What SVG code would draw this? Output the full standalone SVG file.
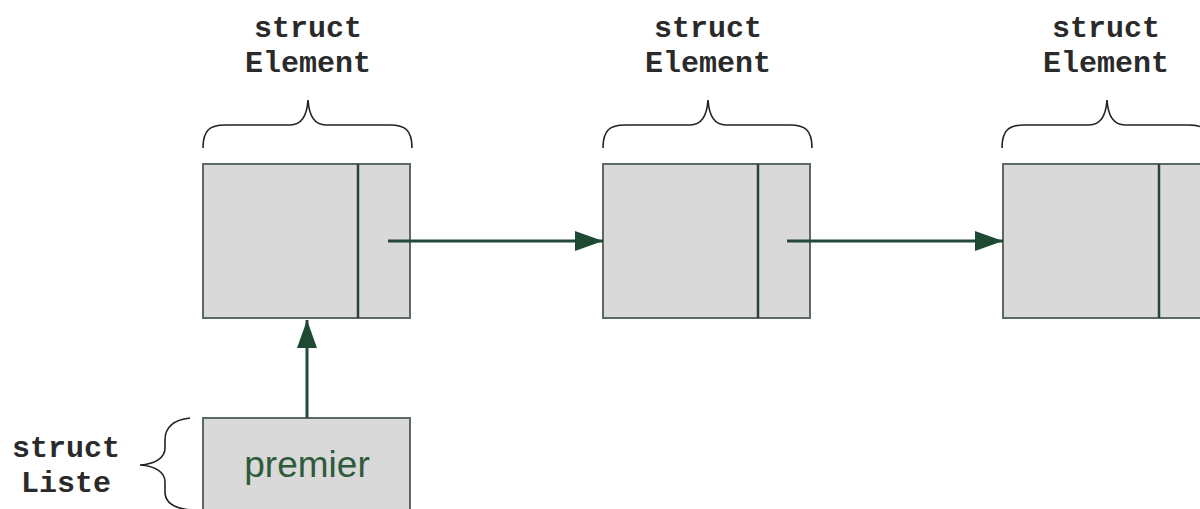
<svg xmlns="http://www.w3.org/2000/svg" width="1200" height="509" viewBox="0 0 1200 509">
<style>
.box{fill:#d9d9d9;stroke:#5b6b61;stroke-width:2}
.div{stroke:#2c4436;stroke-width:2.5}
.brace{fill:none;stroke:#222;stroke-width:1.6}
.code{font-family:"Liberation Mono","Courier New",monospace;font-weight:bold;font-size:30px;fill:#2a2a2a;text-anchor:middle}
.lbl{font-family:"Liberation Sans",Arial,sans-serif;font-size:37px;fill:#2f5a3c;text-anchor:middle}
.conn{stroke:#24483a;stroke-width:3;fill:none}
</style>
<defs>
<marker id="ah" markerWidth="28" markerHeight="20" refX="28" refY="10" orient="auto" markerUnits="userSpaceOnUse">
<path d="M0,0 L28,10 L0,20 Z" fill="#1e4a34"/>
</marker>
</defs>
<g id="element1">
<text class="code" x="308" y="37">struct</text>
<text class="code" x="308" y="72">Element</text>
<path class="brace" d="M203,148 C203,130 210,125 225,125 L290,125 C302,125 307,115 308,100 C309,115 314,125 326,125 L390,125 C405,125 412,130 412,148"/>
<rect class="box" x="203" y="164" width="207" height="154"/>
<line class="div" x1="358" y1="164" x2="358" y2="318"/>
</g>
<g id="element2">
<text class="code" x="708" y="37">struct</text>
<text class="code" x="708" y="72">Element</text>
<path class="brace" d="M603,148 C603,130 610,125 625,125 L690,125 C702,125 707,115 708,100 C709,115 714,125 726,125 L790,125 C805,125 812,130 812,148"/>
<rect class="box" x="603" y="164" width="207" height="154"/>
<line class="div" x1="758" y1="164" x2="758" y2="318"/>
</g>
<g id="element3">
<text class="code" x="1106" y="37">struct</text>
<text class="code" x="1106" y="72">Element</text>
<path class="brace" d="M1002,148 C1002,130 1009,125 1024,125 L1089,125 C1101,125 1106,115 1107,100 C1108,115 1113,125 1125,125 L1189,125 C1204,125 1211,130 1211,148"/>
<rect class="box" x="1003" y="164" width="207" height="154"/>
<line class="div" x1="1159" y1="164" x2="1159" y2="318"/>
</g>
<g id="liste">
<text class="code" x="66" y="457">struct</text>
<text class="code" x="66" y="492">Liste</text>
<path class="brace" d="M190,418 C172,420 165,428 165,440 L165,448 C165,458 155,464 140,465 C155,466 165,472 165,482 L165,492 C165,502 172,508 190,510"/>
<rect class="box" x="203" y="418" width="207" height="100"/>
<text class="lbl" x="307" y="477">premier</text>
</g>
<g id="connectors">
<line class="conn" x1="388" y1="241" x2="603" y2="241" marker-end="url(#ah)"/>
<line class="conn" x1="787" y1="241" x2="1003" y2="241" marker-end="url(#ah)"/>
<line class="conn" x1="307" y1="418" x2="307" y2="320" marker-end="url(#ah)"/>
</g>
</svg>
